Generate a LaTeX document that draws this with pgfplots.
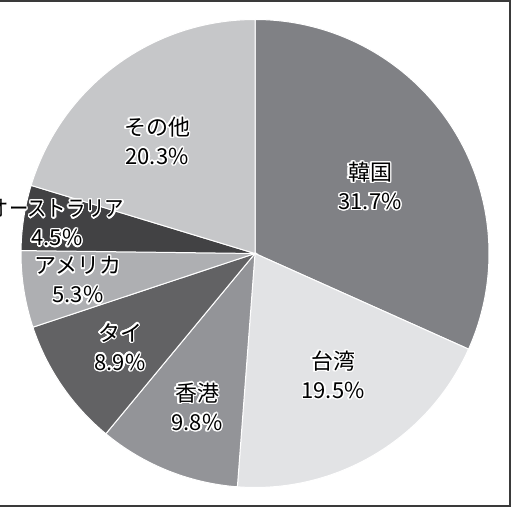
\documentclass[border=0pt]{standalone}
\usepackage{pgfplots}
\pgfplotsset{compat=1.18}
\usepackage{fontspec}
\setmainfont{Noto Sans CJK JP}
\usepackage[copies]{contour}
\contourlength{1.4pt}
\contournumber{24}

\definecolor{cKR}{HTML}{808185}
\definecolor{cTW}{HTML}{E2E3E5}
\definecolor{cHK}{HTML}{939498}
\definecolor{cTH}{HTML}{626264}
\definecolor{cUS}{HTML}{AEAFB2}
\definecolor{cAU}{HTML}{424244}
\definecolor{cOT}{HTML}{C6C7C9}
\definecolor{frame}{HTML}{3A3A3A}

\newcommand{\lbl}[2]{\contour{white}{#1}\\\contour{white}{#2}}

\begin{document}
\begin{tikzpicture}
\begin{axis}[hide axis, scale only axis, width=514pt, height=514pt,
  xmin=0, xmax=514, ymin=0, ymax=514, clip=false]
\def\cx{255}
\def\cy{260.5}
\def\rr{234pt}
\xdef\acc{90}
% share (%) / colour, clockwise from the top
\foreach \v/\c in {31.7/cKR, 19.5/cTW, 9.8/cHK, 8.9/cTH, 5.3/cUS, 4.5/cAU, 20.3/cOT} {
  \pgfmathsetmacro\a{\acc}
  \pgfmathsetmacro\b{\acc-3.6*\v}
  \edef\tmp{\noexpand\fill[\c, draw=white, line width=1pt]
    (axis cs:\cx,\cy) -- ++(\a:\rr) arc[start angle=\a, end angle=\b, radius=\rr] -- cycle;}
  \tmp
  \xdef\acc{\b}
}
\tikzset{lab/.style={align=center, font=\fontsize{22}{29}\selectfont, inner sep=0pt}}
\node[lab] at (axis cs:370,327.5) {\lbl{韓国}{31.7\%}};
\node[lab] at (axis cs:333,138.5) {\lbl{台湾}{19.5\%}};
\node[lab] at (axis cs:197,106.5) {\lbl{香港}{9.8\%}};
\node[lab] at (axis cs:120,166.5) {\lbl{タイ}{8.9\%}};
\node[lab] at (axis cs:78,233.5) {\lbl{アメリカ}{5.3\%}};
\node[lab] at (axis cs:57,290.5) {\scalebox{0.88}[1]{\contour{white}{オーストラリア}}\\\contour{white}{4.5\%}};
\node[lab] at (axis cs:157,372.5) {\lbl{その他}{20.3\%}};
\draw[frame, line width=1.5pt] (axis cs:-30,8) rectangle (axis cs:510,513);
\end{axis}
\pgfresetboundingbox
\useasboundingbox (current axis.south west) rectangle (current axis.north east);
\end{tikzpicture}
\end{document}
